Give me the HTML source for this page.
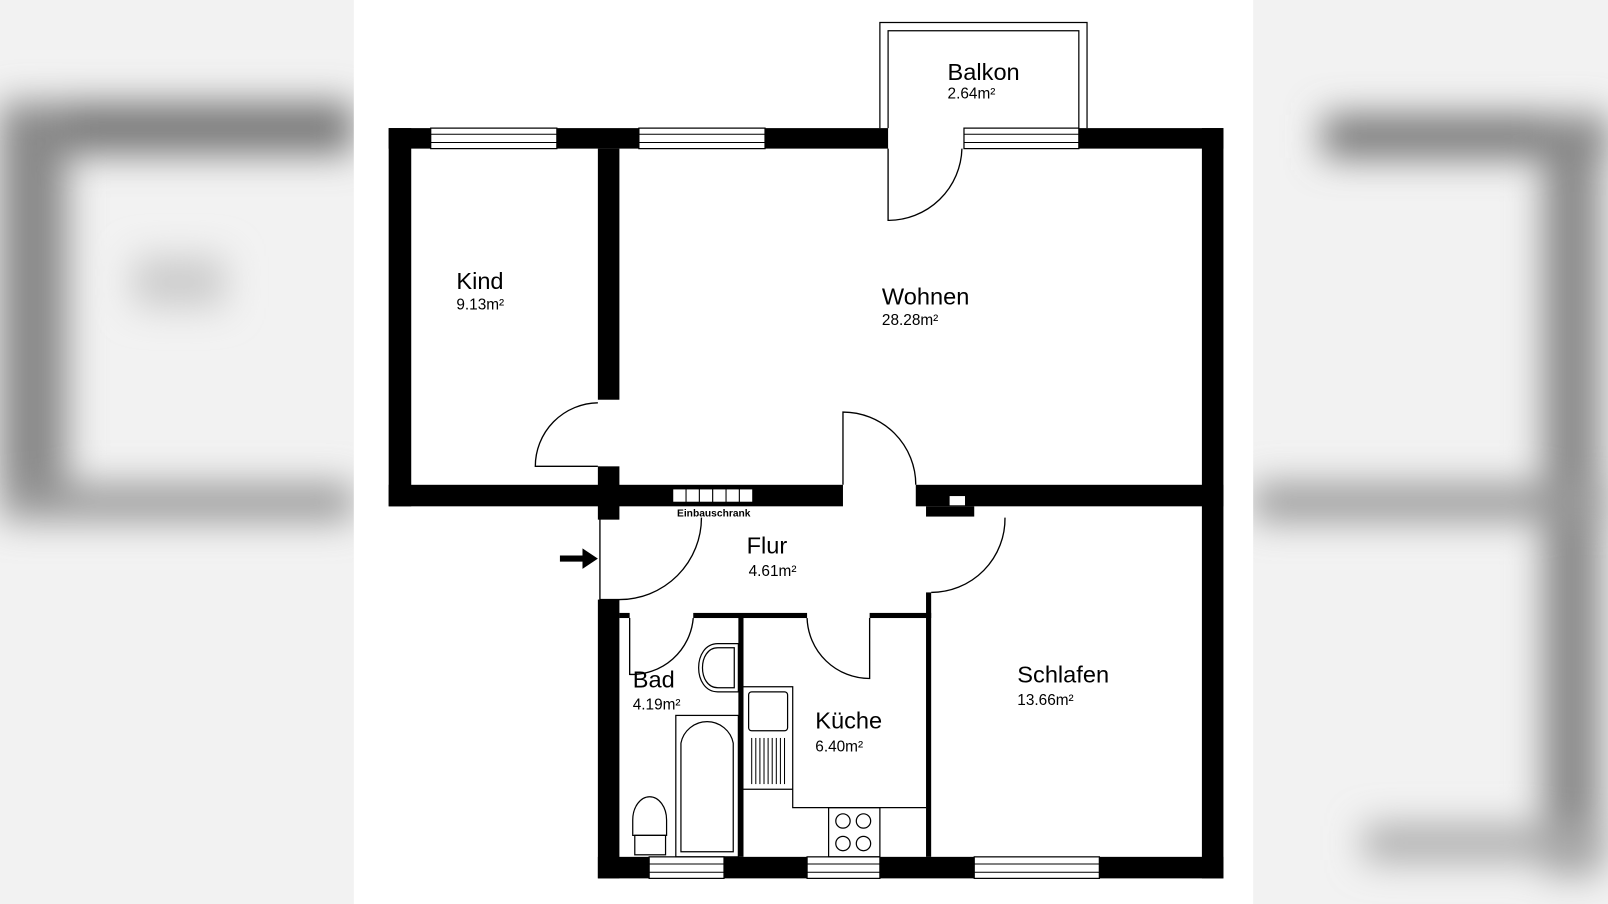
<!DOCTYPE html>
<html><head><style>
html,body{margin:0;padding:0;background:#fff;overflow:hidden}
svg{display:block}
text{font-family:"Liberation Sans",sans-serif;fill:#000}
</style></head><body>
<svg width="1608" height="904" viewBox="0 0 1568 882" preserveAspectRatio="none" xmlns="http://www.w3.org/2000/svg">
<defs><filter id="b" x="-20%" y="-20%" width="140%" height="140%"><feGaussianBlur stdDeviation="18"/></filter></defs>
<rect width="1568" height="882" fill="#f2f2f2"/>
<g filter="url(#b)">
<rect x="0" y="100" width="345" height="50" fill="#777"/>
<rect x="0" y="100" width="65" height="400" fill="#888"/>
<rect x="0" y="472" width="345" height="36" fill="#999"/>
<rect x="130" y="250" width="90" height="50" fill="#ccc"/>
<rect x="1290" y="112" width="278" height="42" fill="#777"/>
<rect x="1505" y="112" width="55" height="740" fill="#888"/>
<rect x="1222" y="472" width="346" height="36" fill="#999"/>
<rect x="1330" y="805" width="238" height="35" fill="#aaa"/>
</g>
<rect x="345" y="0" width="877" height="882" fill="#fff"/>
<g fill="#000">
<rect x="379" y="125" width="487" height="20"/>
<rect x="1052" y="125" width="141" height="20"/>
<rect x="379" y="125" width="22" height="369"/>
<rect x="1172" y="125" width="21" height="732"/>
<rect x="379" y="473" width="443" height="21"/>
<rect x="893" y="473" width="300" height="21"/>
<rect x="903" y="494" width="47" height="10"/>
<rect x="583" y="145" width="21" height="245"/>
<rect x="583" y="455" width="21" height="52"/>
<rect x="583" y="585" width="21" height="272"/>
<rect x="583" y="836" width="610" height="21"/>
<rect x="604" y="598" width="10" height="5"/>
<rect x="676" y="598" width="111" height="5"/>
<rect x="848" y="598" width="60" height="5"/>
<rect x="720" y="600" width="5" height="236"/>
<rect x="903" y="578" width="5" height="258"/>
</g>
<rect x="926" y="484" width="15" height="9" fill="#fff"/>
<g fill="#fff" stroke="#000" stroke-width="1.2">
<rect x="420" y="125" width="123" height="20"/>
<rect x="623" y="125" width="123" height="20"/>
<rect x="940" y="125" width="112" height="20"/>
<rect x="633" y="836" width="73" height="21"/>
<rect x="787" y="836" width="71" height="21"/>
<rect x="950" y="836" width="122" height="21"/>
</g>
<g stroke="#000" stroke-width="1" fill="none">
<line x1="420" y1="131" x2="543" y2="131"/><line x1="420" y1="139" x2="543" y2="139"/>
<line x1="623" y1="131" x2="746" y2="131"/><line x1="623" y1="139" x2="746" y2="139"/>
<line x1="940" y1="131" x2="1052" y2="131"/><line x1="940" y1="139" x2="1052" y2="139"/>
<line x1="633" y1="843" x2="706" y2="843"/><line x1="633" y1="851" x2="706" y2="851"/>
<line x1="787" y1="843" x2="858" y2="843"/><line x1="787" y1="851" x2="858" y2="851"/>
<line x1="950" y1="843" x2="1072" y2="843"/><line x1="950" y1="851" x2="1072" y2="851"/>
</g>
<g fill="none" stroke="#000" stroke-width="1.2">
<path d="M858 125 V22 H1060 V125"/>
<path d="M866 125 V30 H1052 V125"/>
</g>
<g fill="#fff" stroke="#000" stroke-width="1">
<rect x="656" y="477" width="13" height="13"/><rect x="669" y="477" width="13" height="13"/><rect x="682" y="477" width="13" height="13"/><rect x="695" y="477" width="13" height="13"/><rect x="708" y="477" width="13" height="13"/><rect x="721" y="477" width="13" height="13"/>
</g>
<text x="696" y="504" font-size="10" font-weight="bold" text-anchor="middle">Einbauschrank</text>
<g fill="none" stroke="#000" stroke-width="1.3">
<path d="M866 145 V215 A72 72 0 0 0 938 145"/>
<path d="M583 455 H522 A62 62 0 0 1 583 393"/>
<path d="M822 473 V402 A71 71 0 0 1 893 473"/>
<path d="M585 505 V585 H604 A80 80 0 0 0 684 505"/>
<path d="M614 603 V658 A60 60 0 0 0 676 603"/>
<path d="M848 603 V662 A61 61 0 0 1 787 603"/>
<path d="M980 505 A72 72 0 0 1 908 578"/>
</g>
<path d="M546 542 H568 V535 L583 545 L568 555 V548 H546 Z" fill="#000"/>
<g fill="none" stroke="#000" stroke-width="1.2">
<path d="M725 670 H773 V788 H903"/>
<line x1="725" y1="770" x2="773" y2="770"/>
<rect x="730" y="675" width="38" height="38" rx="3"/>
<rect x="808" y="788" width="50" height="48"/>
<circle cx="822" cy="801" r="7"/><circle cx="842" cy="801" r="7"/>
<circle cx="822" cy="823" r="7"/><circle cx="842" cy="823" r="7"/>
<rect x="659" y="698" width="61" height="138"/>
<path d="M664 831 V725 A26 26 0 0 1 715 725 V831 Z"/>
<path d="M700 628 H720 V675 H700 C675 675 675 628 700 628 Z"/>
<path d="M700 632 H716 V671 H700 C680 671 680 632 700 632 Z"/>
<path d="M617 800 A16 22 0 0 1 650 800 V815 H617 Z"/>
<rect x="619" y="815" width="30" height="19"/>
</g>
<g stroke="#000" stroke-width="1">
<line x1="733" y1="720" x2="733" y2="765"/><line x1="737" y1="720" x2="737" y2="765"/><line x1="741" y1="720" x2="741" y2="765"/><line x1="745" y1="720" x2="745" y2="765"/><line x1="749" y1="720" x2="749" y2="765"/><line x1="753" y1="720" x2="753" y2="765"/><line x1="757" y1="720" x2="757" y2="765"/><line x1="761" y1="720" x2="761" y2="765"/><line x1="765" y1="720" x2="765" y2="765"/>
</g>
<g font-size="23">
<text x="445" y="282">Kind</text>
<text x="860" y="297">Wohnen</text>
<text x="924" y="78">Balkon</text>
<text x="728" y="540">Flur</text>
<text x="617" y="671">Bad</text>
<text x="795" y="711">Küche</text>
<text x="992" y="666">Schlafen</text>
</g>
<g font-size="15">
<text x="445" y="302">9.13m²</text>
<text x="860" y="317">28.28m²</text>
<text x="924" y="96">2.64m²</text>
<text x="730" y="562">4.61m²</text>
<text x="617" y="692">4.19m²</text>
<text x="795" y="733">6.40m²</text>
<text x="992" y="688">13.66m²</text>
</g>
</svg>
</body></html>
